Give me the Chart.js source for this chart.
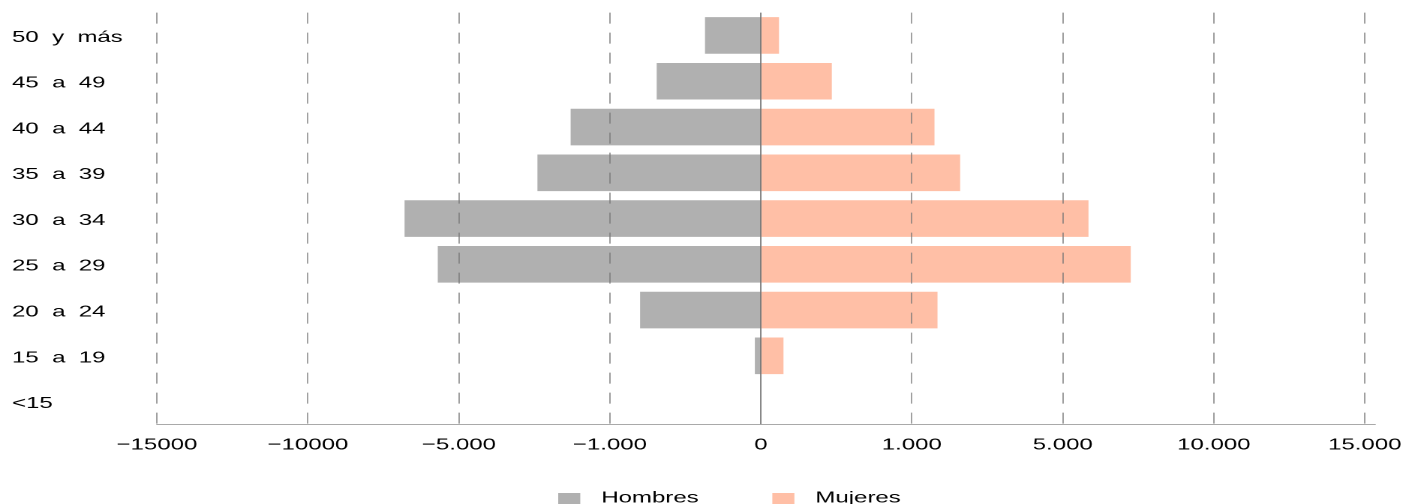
<!DOCTYPE html>
<html>
<head>
<meta charset="utf-8">
<script src="https://cdn.jsdelivr.net/npm/chart.js@4"></script>
<style>
    html, body { margin: 0; padding: 0; background: #fff; overflow: hidden; }
    /* the source picture is stretched sideways, so the chart is drawn narrow and scaled */
    #wrap { width: 945px; height: 504px; transform: scaleX(1.5005); transform-origin: 0 0; }
</style>
</head>
<body>
<div id="wrap"><canvas id="pyramid" width="945" height="504"></canvas></div>
<script>
// Age groups, top to bottom
const ageGroups = ['50  y  más', '45  a  49', '40  a  44', '35  a  39', '30  a  34',
                   '25  a  29', '20  a  24', '15  a  19', '<15'];

// Bar lengths in axis steps (one step = one gridline)
const hombres = [-0.37, -0.69, -1.26, -1.48, -2.36, -2.14, -0.80, -0.04, 0];
const mujeres = [0.12, 0.47, 1.15, 1.32, 2.17, 2.45, 1.17, 0.15, 0];

// Gridline positions and the labels printed under them
const tickValues = [-4, -3, -2, -1, 0, 1, 2, 3, 4];
const tickLabels = ['\u221215000', '\u221210000', '\u22125.000', '\u22121.000', '0',
                    '1.000', '5.000', '10.000', '15.000'];

const FONT = { family: '"Liberation Sans", Arial, Helvetica, sans-serif', size: 16 };

// Legend drawn by hand so the box/text gap matches the picture
const bottomLegend = {
    id: 'bottomLegend',
    afterDraw(chart) {
        const ctx = chart.ctx;
        ctx.save();
        ctx.font = FONT.size + 'px ' + FONT.family;
        ctx.textBaseline = 'alphabetic';
        let x = 372;
        chart.data.datasets.forEach(ds => {
            ctx.fillStyle = ds.backgroundColor;
            ctx.fillRect(x, 493, 14.7, 22);
            ctx.fillStyle = '#000';
            ctx.fillText(ds.label, x + 28.7, 502.5);
            x += 142.7;
        });
        ctx.restore();
    }
};

const ctx = document.getElementById('pyramid').getContext('2d');
const pyramidChart = new Chart(ctx, {
    type: 'bar',
    data: {
        labels: ageGroups,
        datasets: [
            {
                label: 'Hombres',
                data: hombres,
                backgroundColor: '#b0b0b0',
                borderWidth: 0,
                barPercentage: 0.8,
                categoryPercentage: 1
            },
            {
                label: 'Mujeres',
                data: mujeres,
                backgroundColor: '#ffbfa6',
                borderWidth: 0,
                barPercentage: 0.8,
                categoryPercentage: 1
            }
        ]
    },
    options: {
        indexAxis: 'y',
        responsive: false,
        devicePixelRatio: 2,
        animation: false,
        layout: {
            padding: { left: 8, right: 0, top: 12, bottom: 0 }
        },
        plugins: {
            legend: { display: false },
            tooltip: { enabled: false }
        },
        scales: {
            x: {
                type: 'linear',
                min: -4,
                max: 4.07,
                stacked: true,
                afterBuildTicks: function(axis) {
                    axis.ticks = tickValues.map(v => ({ value: v }));
                },
                afterFit: function(axis) {
                    axis.height = 79.5;
                },
                grid: {
                    z: 1,
                    drawTicks: false,
                    lineWidth: 0.7,
                    color: function(c) {
                        return c.tick && c.tick.value === 0 ? '#555555' : '#787878';
                    }
                },
                border: {
                    display: true,
                    z: 1,
                    color: '#8c8c8c',
                    width: 0.7,
                    dash: function(c) {
                        return c.tick && c.tick.value === 0 ? [] : [11, 9];
                    }
                },
                ticks: {
                    padding: 11,
                    color: '#000',
                    font: FONT,
                    maxRotation: 0,
                    autoSkip: false,
                    callback: function(value) {
                        return tickLabels[tickValues.indexOf(value)];
                    }
                }
            },
            y: {
                stacked: true,
                grid: { display: false },
                border: { display: false },
                afterFit: function(axis) {
                    axis.width = 96.6;
                },
                ticks: {
                    crossAlign: 'far',
                    labelOffset: 2,
                    color: '#000',
                    font: FONT
                }
            }
        }
    },
    plugins: [bottomLegend]
});
</script>
</body>
</html>
